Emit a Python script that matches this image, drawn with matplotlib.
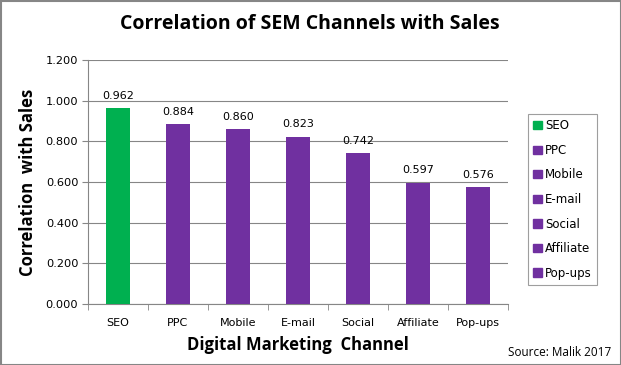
import numpy as np
import matplotlib.pyplot as plt
from matplotlib.patches import Patch, Rectangle

channels = ["SEO", "PPC", "Mobile", "E-mail", "Social", "Affiliate", "Pop-ups"]
correlation = [0.962, 0.884, 0.860, 0.823, 0.742, 0.597, 0.576]
colors = ["#00B050"] + ["#7030A0"] * 6
yticks = [0.0, 0.2, 0.4, 0.6, 0.8, 1.0, 1.2]

fig = plt.figure(figsize=(6.21, 3.65), dpi=100)
ax = fig.add_axes([88/621, 1-304/365, 420/621, 244/365])

x = np.arange(len(channels))
ax.bar(x, correlation, width=0.4, color=colors, zorder=3)
for xi, v in zip(x, correlation):
    ax.text(xi, v + 0.036, f"{v:.3f}", ha="center", va="bottom", fontsize=8, color="black")

ax.set_xlim(-0.5, len(channels) - 0.5)
ax.set_ylim(0, 1.2)
ax.set_yticks(yticks)
ax.set_yticklabels([f"{t:.3f}" for t in yticks], fontsize=8.2)
ax.yaxis.grid(True, color="#868686", lw=0.8, zorder=0)
ax.set_xticks(x)
ax.set_xticklabels(channels, fontsize=8)
ax.set_xticks(np.arange(-0.5, len(channels)), minor=True)
ax.tick_params(axis="x", which="major", length=0, pad=10)
ax.tick_params(axis="x", which="minor", length=4, color="#868686")
ax.tick_params(axis="y", length=4, color="#868686", pad=3)
for s in ["top", "right"]:
    ax.spines[s].set_visible(False)
for s in ["left", "bottom"]:
    ax.spines[s].set_color("#868686")

ax.set_ylabel("Correlation  with Sales", fontsize=12, fontweight="bold", family="Open Sans", labelpad=6)
ax.set_xlabel("Digital Marketing  Channel", fontsize=12, fontweight="bold", family="Open Sans", labelpad=6)

fig.text(310/621, 1-24/365, "Correlation of SEM Channels with Sales", ha="center", va="center",
         fontsize=14, fontweight="bold", family="Open Sans")
fig.text(611/621, 1-359/365, "Source: Malik 2017", ha="right", va="bottom", fontsize=8.5, family="Open Sans")

handles = [Patch(color=c, label=l) for c, l in zip(colors, channels)]
leg = fig.legend(handles=handles, loc="upper left", bbox_to_anchor=(528/621, 1-114/365),
                 borderaxespad=0, handlelength=0.7, handleheight=0.7, handletextpad=0.3,
                 labelspacing=0.98, borderpad=0.45, frameon=True, fancybox=False,
                 prop={"family": "DejaVu Sans", "size": 8.5})
leg.get_frame().set_edgecolor("#868686")
leg.get_frame().set_linewidth(0.8)

fig.patches.append(Rectangle((0.5/621, 0.5/365), 620/621, 364/365, transform=fig.transFigure,
                             fill=False, edgecolor="#868686", lw=1.5))

fig.savefig("out.png", dpi=100)
